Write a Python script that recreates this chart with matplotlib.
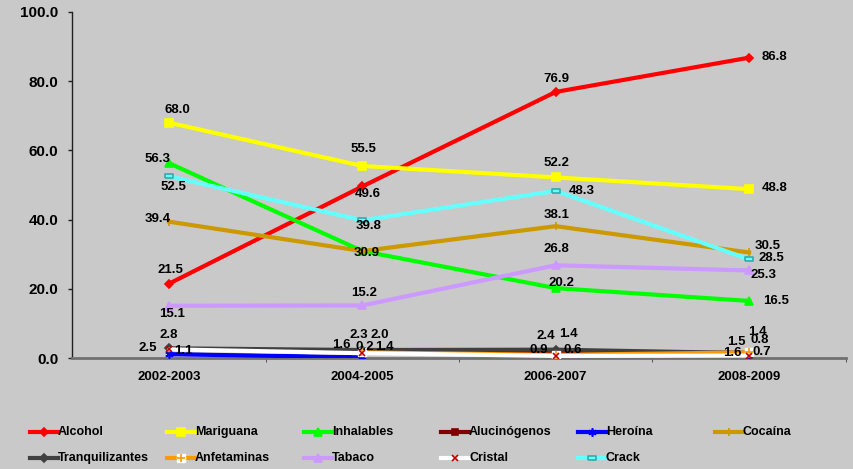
import numpy as np
import matplotlib.pyplot as plt
from matplotlib.lines import Line2D

plt.rcParams['font.family'] = ['Liberation Sans', 'DejaVu Sans']

periods = ['2002-2003', '2004-2005', '2006-2007', '2008-2009']

alcohol = [21.5, 49.6, 76.9, 86.8]
mariguana = [68.0, 55.5, 52.2, 48.8]
inhalables = [56.3, 30.9, 20.2, 16.5]
alucinogenos = [np.nan, 2.0, 1.4, 1.5]
heroina = [1.1, 0.2, np.nan, 0.8]
cocaina = [39.4, 30.9, 38.1, 30.5]
tranquilizantes = [2.8, 2.3, 2.4, 1.4]
anfetaminas = [np.nan, 1.6, 0.9, 1.6]
tabaco = [15.1, 15.2, 26.8, 25.3]
cristal = [2.5, 1.4, 0.6, 0.7]
crack = [52.5, 39.8, 48.3, 28.5]

box = [(-1, -0.45), (1, -0.45), (1, 0.45), (-1, 0.45), (-1, -0.45)]

# name, values, line color, marker, size, face, edge, label offsets (px, up +)
series = [
    ('Alcohol', alcohol, '#FF0000', 'D', 4, '#FF0000', '#FF0000',
     [(1, 12), (5, -9), (1, 12), (25, 0)]),
    ('Mariguana', mariguana, '#FFFF00', 's', 6, '#FFFF00', '#FFFF00',
     [(8, 12), (1, 16), (1, 13), (26, 0)]),
    ('Inhalables', inhalables, '#00FF00', '^', 6, '#00FF00', '#00FF00',
     [(-12, 3), None, (6, 4), (27, -1)]),
    ('Alucinógenos', alucinogenos, '#800000', 's', 5, '#800000', '#800000',
     [None, (17, 15), (13, 18), (-13, 10)]),
    ('Heroína', heroina, '#0000FF', (6, 2, 0), 6, '#0000FF', '#0000FF',
     [(14, 2), (2, 9), None, (11, 14)]),
    ('Cocaína', cocaina, '#CC9900', '|', 6, '#CC9900', '#CC9900',
     [(-11, 2), (4, -3), (1, 10), (19, 5)]),
    ('Tranquilizantes', tranquilizantes, '#404040', 'D', 4, '#404040', '#404040',
     [(0, 12), (-4, 14), (-10, 13), (8, 20)]),
    ('Anfetaminas', anfetaminas, '#FF9900', '+', 6, '#FF9900', '#FF9900',
     [None, (-21, 6), (-17, 4), (-17, -2)]),
    ('Tabaco', tabaco, '#CC99FF', '^', 6, '#CC99FF', '#CC99FF',
     [(3, -9), (2, 11), (1, 15), (14, -6)]),
    ('Cristal', cristal, '#FFFFFF', 'x', 5, '#C00000', '#C00000',
     [(-21, 0), (22, 5), (17, 5), (13, 2)]),
    ('Crack', crack, '#66FFFF', box, 6, '#66FFFF', '#33AAAA',
     [(4, -12), (6, -7), (26, -1), (22, 0)]),
]

fig = plt.figure(figsize=(8.54, 4.69), dpi=100)
fig.patch.set_facecolor('#C9C9C9')
ax = fig.add_axes([72.5 / 854, 1 - 358 / 469, 773.2 / 854, 346 / 469])
ax.set_facecolor('#C9C9C9')

x = np.arange(len(periods))
W, H = 854.0, 469.0
for i, (name, vals, color, marker, ms, mfc, mec, offs) in enumerate(series):
    if name == 'Anfetaminas':
        ax.plot(x, vals, color=color, lw=3, marker='s', ms=6, mfc='white',
                mec='white', zorder=3)
        ax.plot(x, vals, ls='none', marker='+', ms=6, mec=color, mew=1.2,
                zorder=3)
    else:
        ax.plot(x, vals, color=color, lw=3, marker=marker, ms=ms, mfc=mfc,
                mec=mec, mew=1.2, zorder=3)
    for xi, v, off in zip(x, vals, offs):
        if off is None or np.isnan(v):
            continue
        ax.annotate(f'{v:.1f}', (xi, v), xytext=(off[0] * 0.72, off[1] * 0.72 + 0.8),
                    textcoords='offset points', ha='center', va='center',
                    fontsize=9.5, fontweight='bold', zorder=5)

    # legend entry, laid out in rows of six
    col, row = i % 6, i // 6
    lx = 30 + 137 * col
    ly = 1 - (432 + 26 * row) / H
    fig.add_artist(Line2D([lx / W, (lx + 28) / W], [ly, ly], color=color, lw=3,
                          transform=fig.transFigure))
    if name == 'Anfetaminas':
        fig.add_artist(Line2D([(lx + 14) / W], [ly], ls='none', marker='s', ms=6,
                              mfc='white', mec='white', transform=fig.transFigure))
        fig.add_artist(Line2D([(lx + 14) / W], [ly], ls='none', marker='+', ms=6,
                              mec=color, mew=1.2, transform=fig.transFigure))
    else:
        fig.add_artist(Line2D([(lx + 14) / W], [ly], ls='none', marker=marker,
                              ms=ms, mfc=mfc, mec=mec, mew=1.2,
                              transform=fig.transFigure))
    fig.text((lx + 28) / W, ly, name, fontsize=9, fontweight='bold',
             ha='left', va='center')

ax.set_xlim(-0.5, len(periods) - 0.5)
ax.set_ylim(0, 100)
ax.set_xticks(x)
ax.set_xticklabels(periods, fontsize=9.5, fontweight='bold')
ax.set_xticks(np.arange(len(periods)) + 0.5, minor=True)
ax.tick_params(axis='x', which='major', length=0, pad=9)
ax.tick_params(axis='x', which='minor', length=3, color='#404040')
ax.set_yticks([0, 20, 40, 60, 80, 100])
ax.set_yticklabels([f'{t:.1f}' for t in [0, 20, 40, 60, 80, 100]],
                   fontsize=11, fontweight='bold')
ax.tick_params(axis='y', length=3, width=1, color='#202020', pad=7)
for s in ['top', 'right']:
    ax.spines[s].set_visible(False)
ax.spines['left'].set_color('#202020')
ax.spines['left'].set_linewidth(1)
ax.spines['bottom'].set_color('#707070')
ax.spines['bottom'].set_linewidth(2)

fig.savefig('out.png', dpi=100, facecolor=fig.get_facecolor())
